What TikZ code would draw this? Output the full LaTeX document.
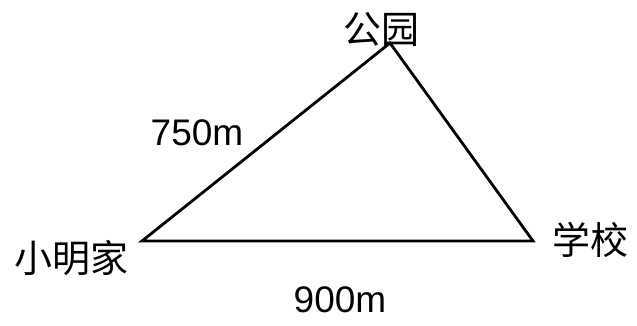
\documentclass[tikz,border=0pt]{standalone}
\usepackage{fontspec}
\setmainfont{Liberation Sans}
\newfontfamily\cjk{Noto Sans CJK SC}
\usetikzlibrary{positioning,calc}

\begin{document}
\begin{tikzpicture}[x=1pt,y=-1pt,
      place/.style={font=\cjk\fontsize{38}{42}\selectfont,inner sep=0pt},
      dist/.style={font=\fontsize{37}{40}\selectfont,inner sep=0pt},
      edge/.style={line width=2.8pt,line join=miter}
      ]

      \useasboundingbox (0,0) rectangle (637,326);

      \coordinate (home) at (142,241);
      \coordinate (park) at (390,43);
      \coordinate (school) at (533,241);

      \draw[edge] (home)--(park)--(school)--cycle;

      \node[place] (homelabel) at (71,258) {小明家};
      \node[place] (parklabel) at (381,29) {公园};
      \node[place] (schoollabel) at (590,240) {学校};

      \node[dist] (sidea) at (197,133) {750m};
      \node[dist] (sideb) at (340,300) {900m};

    \end{tikzpicture}
\end{document}
